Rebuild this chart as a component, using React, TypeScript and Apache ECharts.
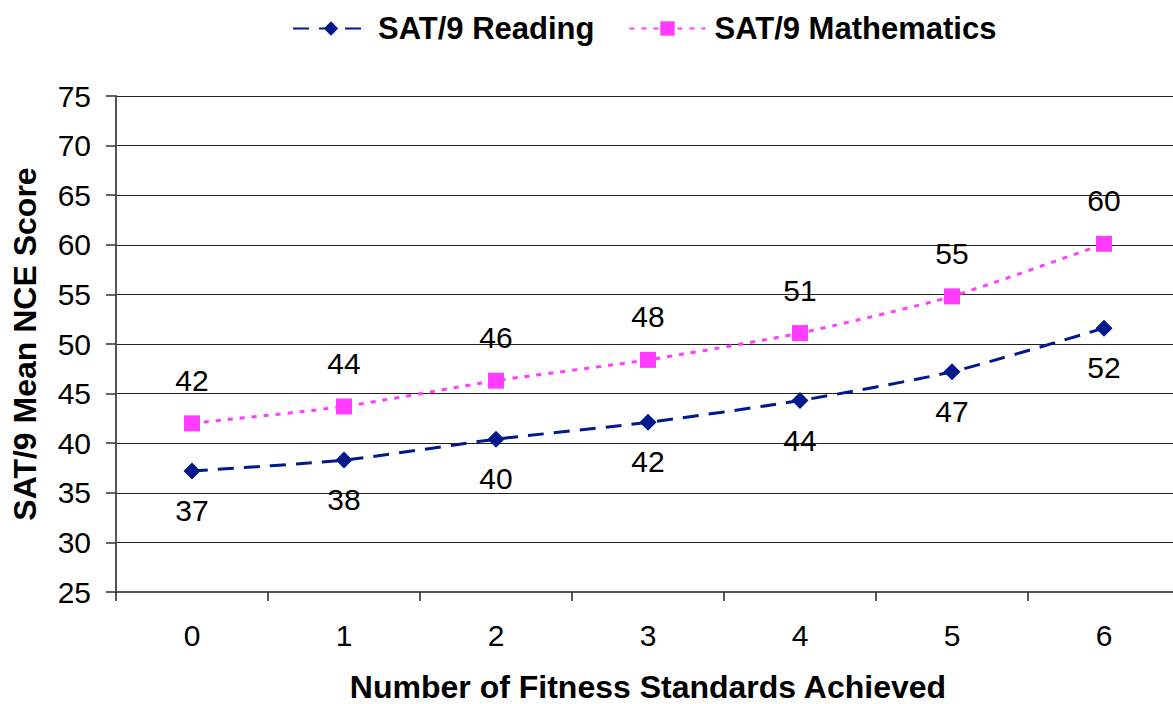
import React, { useEffect, useRef } from "react";
import * as echarts from "echarts";

const categories = ["0", "1", "2", "3", "4", "5", "6"];
const readingValues = [37.2, 38.3, 40.4, 42.1, 44.3, 47.2, 51.6];
const mathValues = [42.0, 43.7, 46.3, 48.4, 51.1, 54.8, 60.1];
const seriesNames = ["SAT/9 Reading", "SAT/9 Mathematics"];

const FONT = "'Liberation Sans', Arial, sans-serif";

export default function App() {
  const ref = useRef<HTMLDivElement>(null);
  useEffect(() => {
    if (!ref.current) return;
    const chart = echarts.init(ref.current, undefined, { renderer: "svg" });
    chart.setOption({
      animation: false,
      textStyle: { fontFamily: FONT },
      legend: {
        top: 8,
        left: 287,
        itemWidth: 76,
        itemHeight: 18,
        itemGap: 34,
        textStyle: { fontSize: 31, fontWeight: "bold", color: "#000", fontFamily: FONT, padding: [0, 0, 0, 4] },
        data: seriesNames,
      },
      grid: { left: 116, right: -7, top: 96, bottom: 112, containLabel: false, outerBoundsMode: "none" },
      xAxis: {
        type: "category",
        data: categories,
        boundaryGap: true,
        name: "Number of Fitness Standards Achieved",
        nameLocation: "middle",
        nameGap: 79,
        nameTextStyle: { fontSize: 32, fontWeight: "bold", color: "#000", fontFamily: FONT },
        axisLine: { lineStyle: { color: "#555", width: 2 } },
        axisTick: { show: true, inside: false, length: 9, lineStyle: { color: "#222", width: 1.5 } },
        axisLabel: { fontSize: 30, color: "#000", margin: 28, fontFamily: FONT },
        splitLine: { show: false },
      },
      yAxis: {
        type: "value",
        min: 25,
        max: 75,
        interval: 5,
        name: "SAT/9 Mean NCE Score",
        nameLocation: "middle",
        nameGap: 75,
        nameTextStyle: { fontSize: 32, fontWeight: "bold", color: "#000", fontFamily: FONT },
        axisLine: { show: true, lineStyle: { color: "#555", width: 2 } },
        axisTick: { show: true, inside: false, length: 10, lineStyle: { color: "#333", width: 1.5 } },
        axisLabel: { fontSize: 30, color: "#000", margin: 25, fontFamily: FONT },
        splitLine: { show: true, lineStyle: { color: "#222", width: 1.2 } },
      },
      series: [
        {
          name: seriesNames[0],
          type: "line",
          data: readingValues,
          smooth: 0.2,
          symbol: "diamond",
          symbolSize: 17,
          itemStyle: { color: "#001a8e" },
          lineStyle: { color: "#001a8e", width: 3, type: [16, 10] },
          label: {
            show: true,
            position: "bottom",
            distance: 16,
            fontSize: 30,
            color: "#000",
            fontFamily: FONT,
            formatter: (p: any) => String(Math.round(p.value)),
          },
        },
        {
          name: seriesNames[1],
          type: "line",
          data: mathValues,
          smooth: 0.2,
          symbol: "rect",
          symbolSize: 16,
          itemStyle: { color: "#ff3cff" },
          lineStyle: { color: "#ff3cff", width: 3, type: [5, 7] },
          label: {
            show: true,
            position: "top",
            distance: 20,
            fontSize: 30,
            color: "#000",
            fontFamily: FONT,
            formatter: (p: any) => String(Math.round(p.value)),
          },
        },
      ],
    });
    return () => chart.dispose();
  }, []);
  return (
    <div
      ref={ref}
      style={{ position: "fixed", left: 0, top: 0, width: 1173, height: 704, background: "#fff" }}
    />
  );
}
